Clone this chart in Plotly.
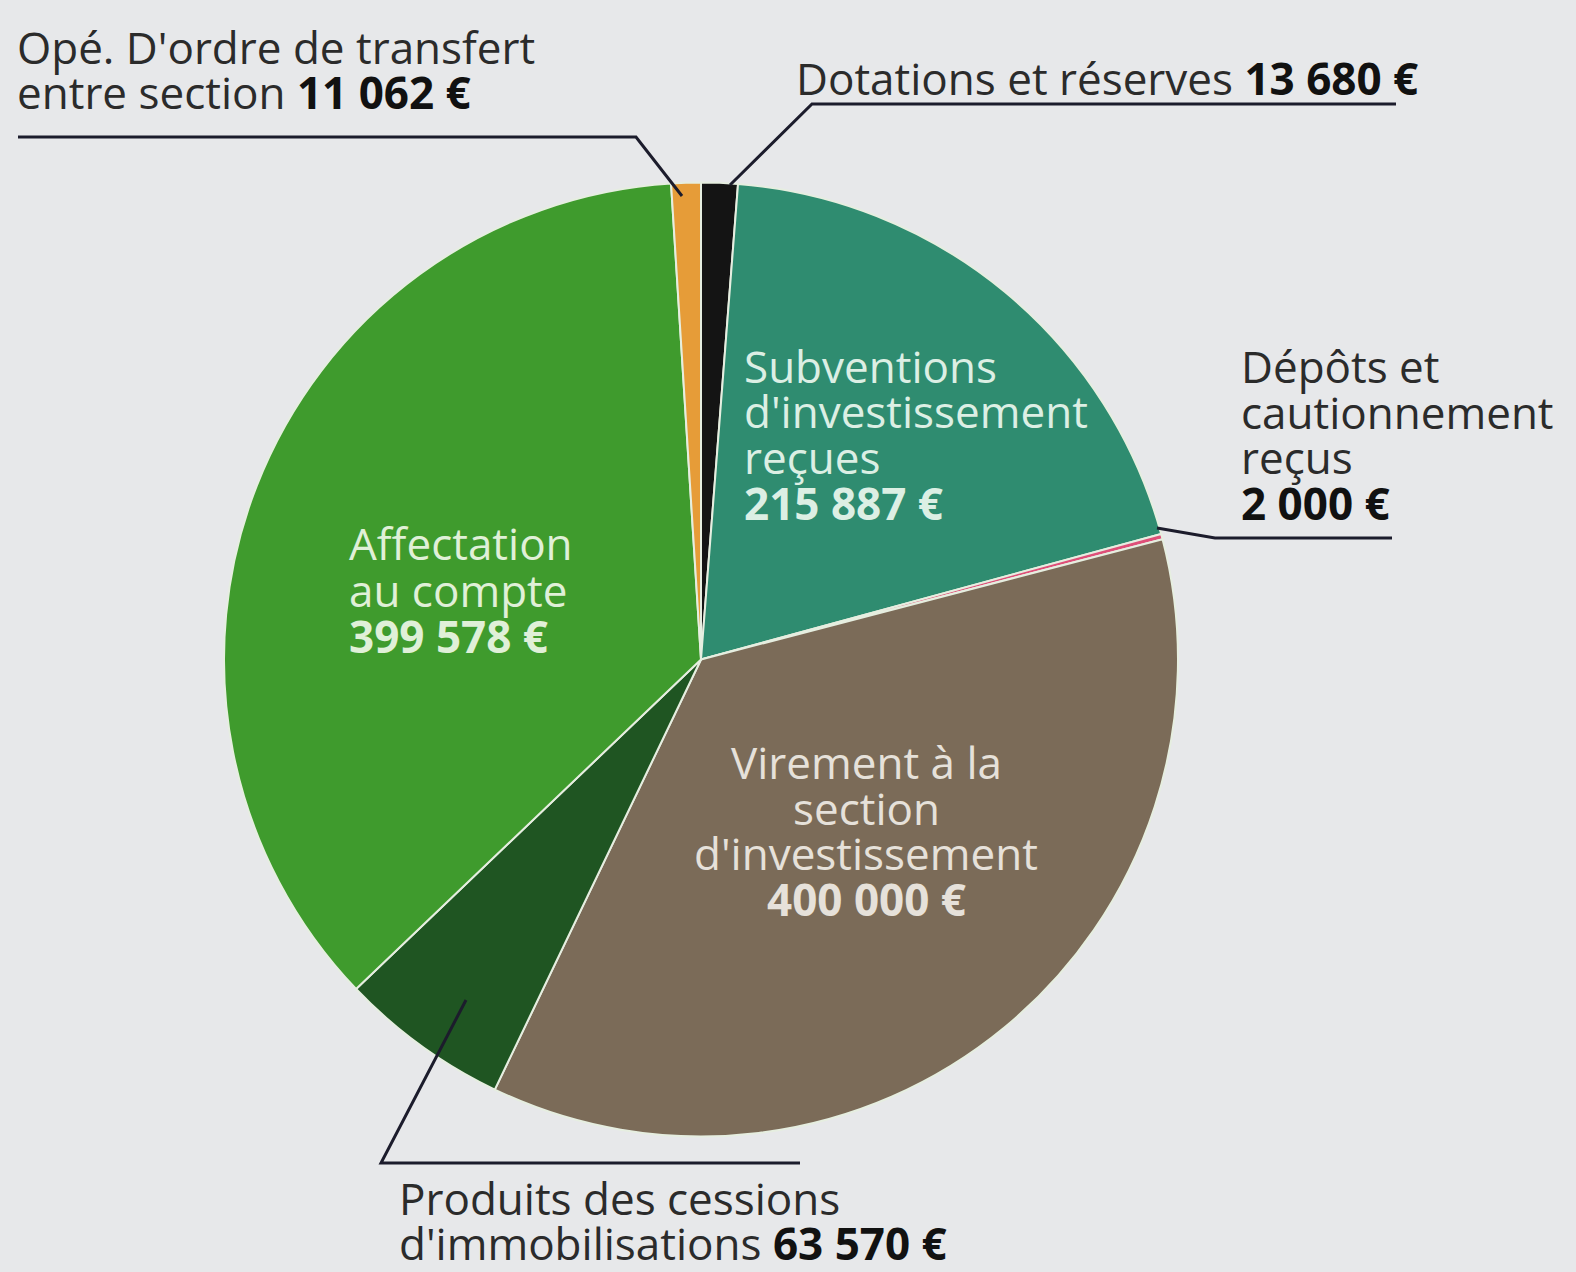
import plotly.graph_objects as go

# ---- data ----
labels = [
    "Dotations et réserves",
    "Subventions d'investissement reçues",
    "Dépôts et cautionnement reçus",
    "Virement à la section d'investissement",
    "Produits des cessions d'immobilisations",
    "Affectation au compte",
    "Opé. D'ordre de transfert entre section",
]
values = [13680, 215887, 2000, 400000, 63570, 399578, 11062]
colors = ["#141414", "#2f8c70", "#de4f78", "#7b6b58", "#1f5522", "#3f9b2d", "#e69c38"]

W, H = 1576, 1272
BG = "#e7e8ea"
FONT = "Open Sans"
FS = 44


def fmt(v):
    s = f"{v:,}".replace(",", " ")
    return s + " €"


def px(x):
    return x / W


def py(y):
    return 1 - y / H


fig = go.Figure()
fig.add_trace(go.Pie(
    values=values,
    labels=labels,
    sort=False,
    direction="clockwise",
    rotation=0,
    marker=dict(colors=colors, line=dict(color="#e6eee0", width=2)),
    textinfo="none",
    hoverinfo="label+value",
    showlegend=False,
    domain=dict(x=[px(224), px(1178)], y=[py(1137), py(182)]),
))

annots = []


def add_lines(lines, x, ys, color, size=FS, align="left"):
    for txt, y in zip(lines, ys):
        annots.append(dict(
            text=txt, x=px(x), y=py(y), xref="paper", yref="paper",
            xanchor={"left": "left", "center": "center"}[align], yanchor="middle",
            showarrow=False, align=align,
            font=dict(family=FONT, size=size, color=color),
        ))


DARK = "#2b2b2b"
NUM = "#111111"
# outside labels
add_lines(["Opé. D'ordre de transfert",
           f"entre section <b><span style='color:{NUM}'>{fmt(values[6])}</span></b>"],
          15, [47, 92], DARK)
add_lines([f"Dotations et réserves <b><span style='color:{NUM}'>{fmt(values[0])}</span></b>"],
          794, [78], DARK)
add_lines(["Dépôts et", "cautionnement", "reçus",
           f"<b><span style='color:{NUM}'>{fmt(values[2])}</span></b>"],
          1239, [366, 412, 457, 503], DARK)
add_lines(["Produits des cessions",
           f"d'immobilisations <b><span style='color:{NUM}'>{fmt(values[4])}</span></b>"],
          397, [1198, 1243], DARK)

# inside labels
add_lines(["Subventions", "d'investissement", "reçues", f"<b>{fmt(values[1])}</b>"],
          742, [366, 411, 457, 503], "#dcefe4")
add_lines(["Affectation", "au compte", f"<b>{fmt(values[5])}</b>"],
          347, [543, 590, 636], "#e0f0d8")
add_lines(["Virement à la", "section", "d'investissement", f"<b>{fmt(values[3])}</b>"],
          866, [762, 808, 853, 899], "#e6e1da", align="center")

# leader lines
LC = "#1c1c2c"
shapes = []


def path(points, width=2.5):
    d = "M " + " L ".join(f"{px(a)},{py(b)}" for a, b in points)
    shapes.append(dict(type="path", path=d, xref="paper", yref="paper",
                       line=dict(color=LC, width=width)))


path([(18, 137), (636, 137), (682, 196)], 3)
path([(730, 185), (812, 104), (1396, 104)], 3)
path([(1157, 528), (1215, 538), (1392, 538)], 3)
path([(466, 1000), (381, 1163), (800, 1163)], 3)

fig.update_layout(
    width=W, height=H,
    margin=dict(l=0, r=0, t=0, b=0),
    paper_bgcolor=BG, plot_bgcolor=BG,
    annotations=annots, shapes=shapes,
)
fig.write_html("out.html",
               config={"displayModeBar": False},
               post_script="document.body.style.margin='0';document.body.style.background='%s';" % BG)
